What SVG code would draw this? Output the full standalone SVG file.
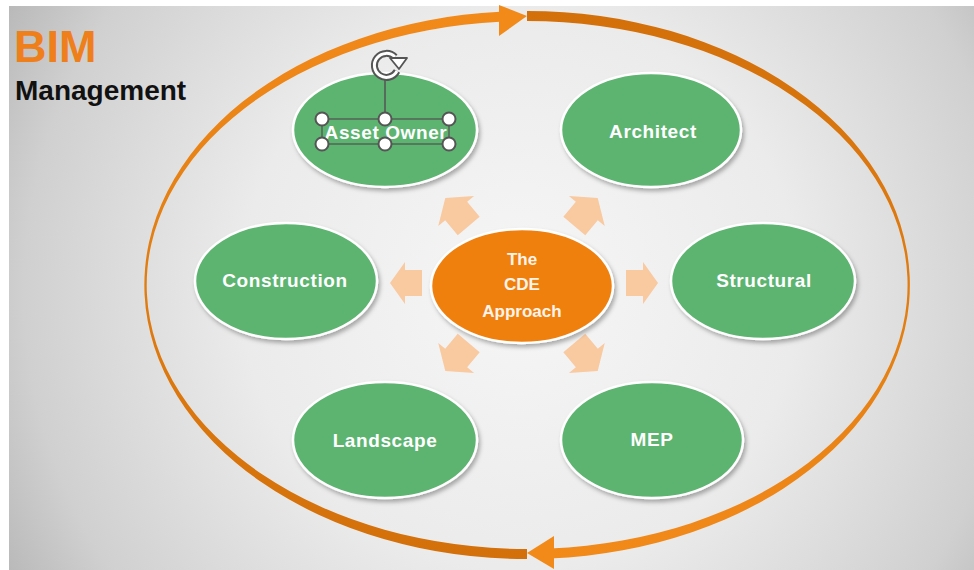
<svg xmlns="http://www.w3.org/2000/svg" width="974" height="570" viewBox="0 0 974 570">
  <defs>
    <radialGradient id="bg" gradientUnits="userSpaceOnUse" cx="520" cy="290" r="620">
      <stop offset="0" stop-color="#f6f6f6"/>
      <stop offset="0.45" stop-color="#ebebeb"/>
      <stop offset="0.8" stop-color="#d0d0d0"/>
      <stop offset="1" stop-color="#b0b0b0"/>
    </radialGradient>
    <linearGradient id="gA" gradientUnits="userSpaceOnUse" x1="0" y1="11" x2="0" y2="559">
      <stop offset="0" stop-color="#d3700a"/>
      <stop offset="0.5" stop-color="#e07c10"/>
      <stop offset="1" stop-color="#f28a1a"/>
    </linearGradient>
    <linearGradient id="gB" gradientUnits="userSpaceOnUse" x1="0" y1="559" x2="0" y2="11">
      <stop offset="0" stop-color="#d3700a"/>
      <stop offset="0.5" stop-color="#e07c10"/>
      <stop offset="1" stop-color="#f28a1a"/>
    </linearGradient>
    <filter id="sh" x="-20%" y="-20%" width="140%" height="150%">
      <feDropShadow dx="2" dy="3" stdDeviation="2" flood-color="#000" flood-opacity="0.3"/>
    </filter>
    <path id="blk" d="M-16,-13 L1,-13 L1,-21 L16,0 L1,21 L1,13 L-16,13 Z"/>
    <path id="blkd" d="M-14,-11 L1,-11 L1,-18 L14,0 L1,18 L1,11 L-14,11 Z"/>
  </defs>
  <style>
    .node { fill: #5cb470; stroke: #ffffff; stroke-width: 2.5; filter: url(#sh); }
    .hub { fill: #f08010; stroke: #ffffff; stroke-width: 2.5; filter: url(#sh); }
    .lbl { font-family: "Liberation Sans", Arial, sans-serif; font-weight: bold; font-size: 19px; fill: #ffffff; text-anchor: middle; letter-spacing: 0.6px; }
    .hubl { font-family: "Liberation Sans", Arial, sans-serif; font-weight: bold; font-size: 17px; fill: #fff4ea; text-anchor: middle; }
    .barrow { fill: #f9c9a0; }
    .head { fill: #f28a1a; }
    .handle { fill: #ffffff; stroke: #555555; stroke-width: 2; }
  </style>

  <rect x="0" y="0" width="974" height="570" fill="#ffffff"/>
  <rect x="9" y="6" width="965" height="564" fill="url(#bg)"/>

  <g id="title">
    <text x="14" y="62" font-family="Liberation Sans, Arial, sans-serif" font-weight="bold" font-size="45" fill="#ef7f1a">BIM</text>
    <text x="15" y="100" font-family="Liberation Sans, Arial, sans-serif" font-weight="bold" font-size="28" fill="#111111">Management</text>
  </g>

  <g id="cycle">
    <path d="M527,11 A383,274 0 0 1 550,558.5 L550,548.5 A381,264 0 0 0 527,21 Z" fill="url(#gA)"/>
    <path d="M527,559 A383,274 0 0 1 500,11.7 L500,21.7 A381,264 0 0 0 527,549 Z" fill="url(#gB)"/>
    <polygon class="head" points="527,16 499,5 499,36"/>
    <polygon class="head" points="527,553 554,536 554,569"/>
  </g>

  <g id="connectors">
    <use href="#blkd" class="barrow" transform="translate(457,212) rotate(-130) scale(1.3)"/>
    <use href="#blkd" class="barrow" transform="translate(586,212) rotate(-50) scale(1.3)"/>
    <use href="#blk" class="barrow" transform="translate(406,283) rotate(180)"/>
    <use href="#blk" class="barrow" transform="translate(642,283)"/>
    <use href="#blkd" class="barrow" transform="translate(457,357) rotate(130) scale(1.3)"/>
    <use href="#blkd" class="barrow" transform="translate(586,357) rotate(50) scale(1.3)"/>
  </g>

  <g id="hub">
    <ellipse class="hub" cx="522" cy="286" rx="91" ry="57"/>
    <text class="hubl" x="522" y="265">The</text>
    <text class="hubl" x="522" y="290">CDE</text>
    <text class="hubl" x="522" y="317">Approach</text>
  </g>

  <g id="asset-owner">
    <ellipse class="node" cx="385" cy="130" rx="92" ry="57"/>
    <text class="lbl" x="386" y="139">Asset Owner</text>
    <g id="selection">
      <rect x="322" y="119" width="127" height="25" fill="none" stroke="#555555" stroke-width="1.3"/>
      <line x1="385" y1="78" x2="385" y2="119" stroke="#555555" stroke-width="1.5"/>
      <path d="M395,57 A12,12 0 1 0 397,71" fill="none" stroke="#555555" stroke-width="7"/>
      <path d="M395,57 A12,12 0 1 0 397,71" fill="none" stroke="#ffffff" stroke-width="3"/>
      <polygon points="390,58 407,58 399,69" fill="#ffffff" stroke="#555555" stroke-width="1.8" stroke-linejoin="round"/>
      <circle class="handle" cx="322" cy="119" r="6.5"/>
      <circle class="handle" cx="385" cy="119" r="6.5"/>
      <circle class="handle" cx="449" cy="119" r="6.5"/>
      <circle class="handle" cx="322" cy="144" r="6.5"/>
      <circle class="handle" cx="385" cy="144" r="6.5"/>
      <circle class="handle" cx="449" cy="144" r="6.5"/>
    </g>
  </g>

  <g id="architect">
    <ellipse class="node" cx="651" cy="130" rx="90" ry="57"/>
    <text class="lbl" x="653" y="138">Architect</text>
  </g>

  <g id="construction">
    <ellipse class="node" cx="286" cy="281" rx="91" ry="58"/>
    <text class="lbl" x="285" y="287">Construction</text>
  </g>

  <g id="structural">
    <ellipse class="node" cx="763" cy="281" rx="92" ry="58"/>
    <text class="lbl" x="764" y="287">Structural</text>
  </g>

  <g id="landscape">
    <ellipse class="node" cx="385" cy="440" rx="92" ry="58"/>
    <text class="lbl" x="385" y="447">Landscape</text>
  </g>

  <g id="mep">
    <ellipse class="node" cx="652" cy="440" rx="91" ry="58"/>
    <text class="lbl" x="652" y="446">MEP</text>
  </g>
</svg>
